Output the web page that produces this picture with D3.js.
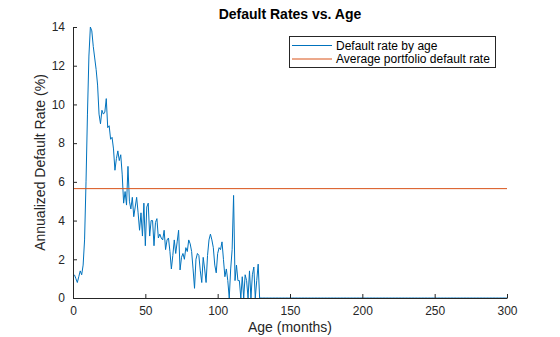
<!DOCTYPE html>
<html>
<head>
<meta charset="utf-8">
<script src="https://cdn.jsdelivr.net/npm/d3@7"></script>
<style>
  html, body { margin: 0; padding: 0; background: #ffffff; }
  svg { display: block; font-family: "Liberation Sans", Arial, sans-serif; }
</style>
</head>
<body>
<div id="chart"></div>
<script>
// ---- Data ----
const title = "Default Rates vs. Age";
const xLabel = "Age (months)";
const yLabel = "Annualized Default Rate (%)";
const seriesNames = ["Default rate by age", "Average portfolio default rate"];
const xTicks = [0, 50, 100, 150, 200, 250, 300];
const yTicks = [0, 2, 4, 6, 8, 10, 12, 14];

// Default rate by age, months 1..128 (rest zero up to 300)
const defaultRateEarly = [
  1.2, 1.0, 0.8, 1.1, 1.4, 1.2, 1.7, 3.0, 6.0, 9.5,
  12.5, 14.0, 13.8, 13.0, 12.4, 11.8, 11.0, 9.5, 9.0, 9.7,
  9.5, 9.6, 10.3, 8.8, 8.9, 8.2, 8.3, 7.7, 6.6, 7.2,
  7.6, 7.1, 7.4, 6.4, 4.9, 5.5, 4.8, 6.8, 5.0, 4.6,
  5.2, 4.2, 4.7, 5.2, 4.4, 3.5, 4.4, 3.2, 4.9, 2.7,
  4.7, 4.9, 3.2, 4.0, 4.0, 2.7, 3.9, 4.1, 3.1, 3.3,
  3.1, 3.0, 3.5, 2.5, 3.0, 3.1, 2.4, 1.5, 2.2, 3.0,
  2.3, 2.9, 3.5, 1.45, 2.1, 2.3, 2.0, 2.6, 2.4, 3.0,
  2.8, 2.4, 1.5, 0.5, 2.0, 2.3, 2.2, 1.4, 0.8, 2.1,
  1.5, 0.8, 2.2, 3.0, 3.3, 3.0, 2.6, 1.7, 1.3, 2.3,
  2.6, 2.5, 2.9, 2.0, 1.1, 1.5, 0.9, 0.0, 1.5, 2.5,
  5.3, 0.9, 1.7, 0.9, 0.9, 0.0, 1.1, 0.0, 1.2, 0.9,
  0.0, 1.4, 0.0, 1.2, 1.6, 0.0, 0.9, 1.75
];
const maxAge = 300;
const averageRate = 5.65;

const ages = d3.range(1, maxAge + 1);
const rates = ages.map((a, i) => i < defaultRateEarly.length ? defaultRateEarly[i] : 0);
const series = ages.map((a, i) => ({ age: a, rate: rates[i] }));

// ---- Layout ----
const W = 560, H = 337;
const m = { left: 73, right: 53, top: 27, bottom: 39 };
const axisColor = "#262626";
const blue = "#0072BD", orange = "#D95319";

const svg = d3.select("#chart").append("svg").attr("width", W).attr("height", H);

const x = d3.scaleLinear().domain([0, 300]).range([m.left, W - m.right]);
const y = d3.scaleLinear().domain([0, 14]).range([H - m.bottom, m.top]);

// Lines
const line = d3.line().x(d => x(d.age)).y(d => y(d.rate));
svg.append("path").datum(series)
  .attr("fill", "none").attr("stroke", blue).attr("stroke-width", 1)
  .attr("stroke-linejoin", "round")
  .attr("d", line);

svg.append("line")
  .attr("x1", x(0)).attr("x2", x(300))
  .attr("y1", y(averageRate)).attr("y2", y(averageRate))
  .attr("stroke", orange).attr("stroke-width", 1);

// Axes (ticks inward)
const xAxis = d3.axisBottom(x).tickValues(xTicks).tickSize(-4).tickPadding(8).tickSizeOuter(0);
const yAxis = d3.axisLeft(y).tickValues(yTicks).tickSize(-4).tickPadding(8).tickSizeOuter(0);

const gx = svg.append("g").attr("transform", `translate(0,${H - m.bottom})`).call(xAxis);
const gy = svg.append("g").attr("transform", `translate(${m.left},0)`).call(yAxis);
[gx, gy].forEach(g => {
  g.select(".domain").attr("stroke", axisColor);
  g.selectAll(".tick line").attr("stroke", axisColor);
  g.selectAll(".tick text").attr("fill", axisColor).style("font-size", "12px")
    .style("font-family", '"Liberation Sans", Arial, sans-serif');
});

// Labels
svg.append("text")
  .attr("x", (m.left + W - m.right) / 2).attr("y", 19)
  .attr("text-anchor", "middle").attr("fill", "#000")
  .style("font-size", "14px").style("font-weight", "bold")
  .text(title);

svg.append("text")
  .attr("x", (m.left + W - m.right) / 2).attr("y", 332)
  .attr("text-anchor", "middle").attr("fill", axisColor)
  .style("font-size", "14px")
  .text(xLabel);

svg.append("text")
  .attr("transform", `translate(45,${(m.top + H - m.bottom) / 2}) rotate(-90)`)
  .attr("text-anchor", "middle").attr("fill", axisColor)
  .style("font-size", "14px")
  .text(yLabel);

// Legend
const lg = svg.append("g");
lg.append("rect")
  .attr("x", 289.5).attr("y", 36.5).attr("width", 206).attr("height", 31)
  .attr("fill", "#fff").attr("stroke", axisColor).attr("stroke-width", 1);
[blue, orange].forEach((c, i) => {
  const yy = 45.5 + i * 13.5;
  lg.append("line").attr("x1", 292).attr("x2", 332).attr("y1", yy).attr("y2", yy)
    .attr("stroke", c).attr("stroke-width", 1);
  lg.append("text").attr("x", 336).attr("y", yy + 4)
    .attr("fill", "#000").style("font-size", "12px")
    .text(seriesNames[i]);
});
</script>
</body>
</html>
